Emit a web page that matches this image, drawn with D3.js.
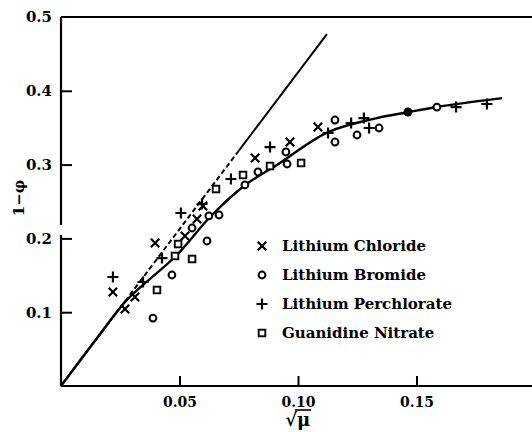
<!DOCTYPE html>
<html><head><meta charset="utf-8">
<script src="https://cdn.jsdelivr.net/npm/d3@7"></script>
<style>html,body{margin:0;padding:0;background:#fff;}svg{display:block;}</style>
</head><body>
<script>
// ---- data (x = sqrt(mu), y = 1 - phi) ----
const xTicks = [0.05, 0.10, 0.15];
const yTicks = [0.1, 0.2, 0.3, 0.4, 0.5];
const seriesNames = ["Lithium Chloride", "Lithium Bromide", "Lithium Perchlorate", "Guanidine Nitrate"];
const chlorideX = [0.0219, 0.0270, 0.0312, 0.0397, 0.0523, 0.0574, 0.0599, 0.0819, 0.0966, 0.1084];
const chlorideY = [0.1274, 0.1043, 0.1206, 0.1938, 0.2033, 0.2263, 0.2439, 0.3089, 0.3306, 0.3509];
const bromideX = [0.0388, 0.0468, 0.0553, 0.0616, 0.0624, 0.0667, 0.0776, 0.0831, 0.0949, 0.0954, 0.1156, 0.1156, 0.1249, 0.1342, 0.1586];
const bromideY = [0.0921, 0.1504, 0.2141, 0.1965, 0.2304, 0.2317, 0.2724, 0.2900, 0.3171, 0.3008, 0.3604, 0.3306, 0.3401, 0.3496, 0.3780];
const perchlorateX = [0.0219, 0.0346, 0.0426, 0.0506, 0.0595, 0.0717, 0.0882, 0.1127, 0.1224, 0.1278, 0.1300, 0.1667, 0.1797];
const perchlorateY = [0.1477, 0.1409, 0.1734, 0.2344, 0.2466, 0.2805, 0.3238, 0.3428, 0.3564, 0.3631, 0.3496, 0.3780, 0.3821];
const nitrateX = [0.0405, 0.0481, 0.0494, 0.0553, 0.0654, 0.0768, 0.0882, 0.1013];
const nitrateY = [0.1301, 0.1762, 0.1924, 0.1721, 0.2669, 0.2859, 0.2981, 0.3022];
const filledX = [0.1464];
const filledY = [0.3713];
// smooth experimental curve
const curveX = [0, 0.0152, 0.0278, 0.0489, 0.0629, 0.0776, 0.0911, 0.1127, 0.1333, 0.1464, 0.1586, 0.1861];
const curveY = [0, 0.0650, 0.1165, 0.1775, 0.2290, 0.2720, 0.2995, 0.3440, 0.3630, 0.3710, 0.3780, 0.3900];
// limiting-law straight line (solid / dashed / solid pieces)
const limitSlope = 4.25;
const limitBreaks = [0, 0.027, 0.075, 0.1122];

const W = 532, H = 432;
const svg = d3.select("body").append("svg").attr("width", W).attr("height", H);
const x = d3.scaleLinear().domain([0, 0.19873]).range([61, 532]);
const y = d3.scaleLinear().domain([0, 0.5]).range([386, 17]);
const FONT = "'DejaVu Serif', serif";

// axes lines
const axisG = svg.append("g").attr("stroke", "#000").attr("stroke-width", 2.2).attr("fill", "none");
axisG.append("line").attr("x1", x(0)).attr("x2", 532).attr("y1", y(0)).attr("y2", y(0));
axisG.append("line").attr("x1", x(0)).attr("x2", 532).attr("y1", y(0.5)).attr("y2", y(0.5));
axisG.append("line").attr("x1", x(0)).attr("x2", x(0)).attr("y1", y(0.5)).attr("y2", 225);
axisG.append("line").attr("x1", x(0)).attr("x2", x(0)).attr("y1", 235).attr("y2", y(0));

const yAxis = d3.axisLeft(y).tickValues(yTicks).tickSize(-11).tickPadding(9).tickFormat(d3.format(".1f"));
const gy = svg.append("g").attr("transform", `translate(${x(0)},0)`).call(yAxis);
gy.select(".domain").remove();
gy.selectAll(".tick line").attr("stroke-width", 2).filter(d => d === 0.5).remove();
gy.selectAll("text").attr("font-family", FONT).attr("font-weight", "bold").attr("font-size", 15).attr("fill", "#000");

const xAxis = d3.axisBottom(x).tickValues(xTicks).tickSize(-10).tickPadding(11).tickFormat(d3.format(".2f"));
const gx = svg.append("g").attr("transform", `translate(0,${y(0)})`).call(xAxis);
gx.select(".domain").remove();
gx.selectAll(".tick line").attr("stroke-width", 2);
gx.selectAll("text").attr("font-family", FONT).attr("font-weight", "bold").attr("font-size", 14).attr("fill", "#000");

// axis titles
const xt = svg.append("g").attr("font-family", FONT).attr("font-weight", "bold").attr("font-size", 18);
xt.append("text").attr("x", 297).attr("y", 426).attr("text-anchor", "end").text("√");
xt.append("text").attr("x", 297).attr("y", 426).attr("text-anchor", "start").text("μ");
svg.append("line").attr("x1", 295).attr("x2", 311).attr("y1", 410).attr("y2", 410).attr("stroke", "#000").attr("stroke-width", 1.6);

svg.append("text").attr("transform", "translate(24,198) rotate(-90)").attr("text-anchor", "middle")
  .attr("font-family", FONT).attr("font-weight", "bold").attr("font-size", 15).text("1−φ");

// limiting law line
const lineG = svg.append("g").attr("stroke", "#000").attr("fill", "none").attr("stroke-width", 2);
for (let i = 0; i < limitBreaks.length - 1; i++) {
  const a = limitBreaks[i], b = limitBreaks[i + 1];
  lineG.append("line").attr("x1", x(a)).attr("y1", y(a * limitSlope)).attr("x2", x(b)).attr("y2", y(b * limitSlope))
    .attr("stroke-dasharray", i === 1 ? "5,3" : null);
}
// curve
const curvePts = curveX.map((v, i) => [v, curveY[i]]);
svg.append("path").datum(curvePts)
  .attr("d", d3.line().x(d => x(d[0])).y(d => y(d[1])).curve(d3.curveCatmullRom.alpha(0.5)))
  .attr("fill", "none").attr("stroke", "#000").attr("stroke-width", 2.4);

// markers
function marker(g, type, cx, cy) {
  if (type === 0) {
    const s = 4.2;
    g.append("path").attr("d", `M${cx - s},${cy - s}L${cx + s},${cy + s}M${cx - s},${cy + s}L${cx + s},${cy - s}`)
      .attr("stroke", "#000").attr("stroke-width", 2.2).attr("fill", "none");
  } else if (type === 1) {
    g.append("circle").attr("cx", cx).attr("cy", cy).attr("r", 3.4)
      .attr("stroke", "#000").attr("stroke-width", 2).attr("fill", "#fff");
  } else if (type === 2) {
    const s = 5.5;
    g.append("path").attr("d", `M${cx - s},${cy}L${cx + s},${cy}M${cx},${cy - s}L${cx},${cy + s}`)
      .attr("stroke", "#000").attr("stroke-width", 2.2).attr("fill", "none");
  } else if (type === 3) {
    const s = 3.3;
    g.append("rect").attr("x", cx - s).attr("y", cy - s).attr("width", 2 * s).attr("height", 2 * s)
      .attr("stroke", "#000").attr("stroke-width", 1.9).attr("fill", "#fff");
  } else {
    g.append("circle").attr("cx", cx).attr("cy", cy).attr("r", 4.5).attr("fill", "#000");
  }
}
const mg = svg.append("g");
const sets = [[chlorideX, chlorideY, 0], [bromideX, bromideY, 1], [perchlorateX, perchlorateY, 2], [nitrateX, nitrateY, 3], [filledX, filledY, 4]];
sets.forEach(([xs, ys, t]) => xs.forEach((v, i) => marker(mg, t, x(v), y(ys[i]))));

// legend
const lg = svg.append("g");
seriesNames.forEach((name, i) => {
  const ly = 246 + i * 29;
  marker(lg, i, 262, ly);
  lg.append("text").attr("x", 282).attr("y", ly + 5).attr("font-family", FONT).attr("font-weight", "bold")
    .attr("font-size", 15).text(name);
});
</script>
</body></html>
